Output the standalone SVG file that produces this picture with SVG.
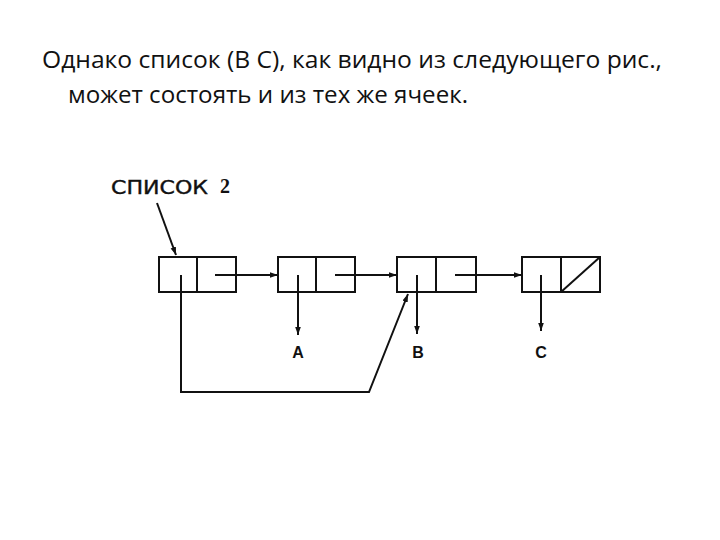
<svg xmlns="http://www.w3.org/2000/svg" width="720" height="540" viewBox="0 0 720 540">
<style>
.t{font-family:"Open Sans","Liberation Sans",sans-serif;font-size:24px;fill:#111}
.cell{fill:none;stroke:#111;stroke-width:2}
.ln{fill:none;stroke:#111;stroke-width:2}
.lbl{font-family:"Liberation Sans",Arial,sans-serif;font-size:16px;font-weight:bold;fill:#111;text-anchor:middle}
.sp{font-family:"DejaVu Sans","Liberation Sans",sans-serif;font-size:19px;fill:#111;stroke:#111;stroke-width:0.4}
.sp2{font-family:"Liberation Serif","Times New Roman",serif;font-size:20px;font-weight:bold;fill:#111}
</style>
<defs>
<marker id="ah" viewBox="0 0 10 10" refX="10" refY="5" markerWidth="8" markerHeight="8" markerUnits="userSpaceOnUse" orient="auto">
<path d="M0,1.5 L10,5 L0,8.5 Z" fill="#111"/>
</marker>
</defs>
<rect width="720" height="540" fill="#fff"/>
<text class="t" x="42" y="68" textLength="620" lengthAdjust="spacingAndGlyphs">Однако список (В С), как видно из следующего рис.,</text>
<text class="t" x="68" y="103" textLength="400" lengthAdjust="spacingAndGlyphs">может состоять и из тех же ячеек.</text>
<g id="label">
<text class="sp" x="111" y="194" textLength="97" lengthAdjust="spacingAndGlyphs">СПИСОК</text>
<text class="sp2" x="220" y="193">2</text>
</g>
<g id="cell1">
<rect class="cell" x="159" y="257" width="77" height="35"/>
<line class="ln" x1="197" y1="257" x2="197" y2="292"/>
</g>
<g id="cell2">
<rect class="cell" x="278" y="257" width="77" height="35"/>
<line class="ln" x1="316" y1="257" x2="316" y2="292"/>
</g>
<g id="cell3">
<rect class="cell" x="397" y="257" width="79" height="35"/>
<line class="ln" x1="436" y1="257" x2="436" y2="292"/>
</g>
<g id="cell4">
<rect class="cell" x="522" y="257" width="78" height="35"/>
<line class="ln" x1="561" y1="257" x2="561" y2="292"/>
<line class="ln" x1="561" y1="292" x2="600" y2="257"/>
</g>
<g id="atomA"><text class="lbl" x="298" y="358">A</text></g>
<g id="atomB"><text class="lbl" x="418" y="358">B</text></g>
<g id="atomC"><text class="lbl" x="541" y="358">C</text></g>
<g id="connectors">
<line class="ln" x1="157" y1="203" x2="176" y2="255" marker-end="url(#ah)"/>
<line class="ln" x1="215" y1="275" x2="278" y2="275" marker-end="url(#ah)"/>
<line class="ln" x1="335" y1="275" x2="397" y2="275" marker-end="url(#ah)"/>
<line class="ln" x1="455" y1="275" x2="522" y2="275" marker-end="url(#ah)"/>
<line class="ln" x1="298" y1="275" x2="298" y2="335" marker-end="url(#ah)"/>
<line class="ln" x1="417" y1="275" x2="417" y2="334" marker-end="url(#ah)"/>
<line class="ln" x1="541" y1="275" x2="541" y2="331" marker-end="url(#ah)"/>
<polyline class="ln" points="181,275 181,392 369,392 408,294" marker-end="url(#ah)"/>
</g>
</svg>
